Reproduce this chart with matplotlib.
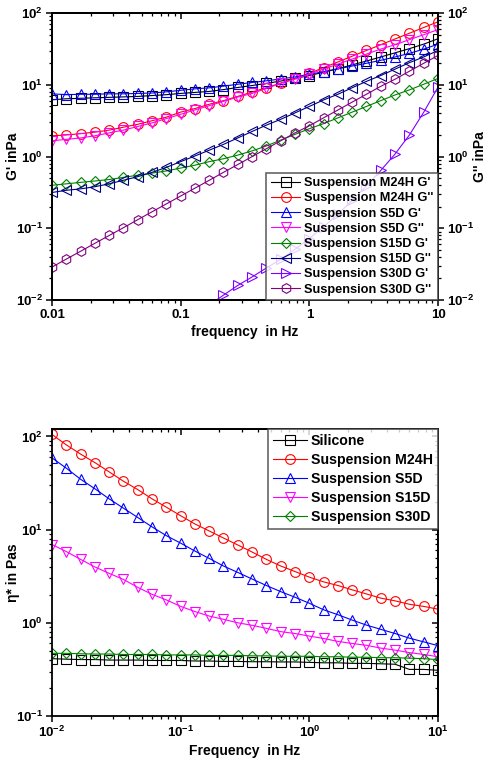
import numpy as np
import matplotlib
matplotlib.use('Agg')
from matplotlib import pyplot as plt
from matplotlib.ticker import FuncFormatter, FormatStrFormatter, NullFormatter

plt.rcParams['font.family'] = ['Liberation Sans', 'DejaVu Sans']
plt.rcParams['font.weight'] = 'bold'
plt.rcParams['axes.labelweight'] = 'bold'
plt.rcParams['mathtext.fontset'] = 'custom'
plt.rcParams['mathtext.rm'] = 'Liberation Sans:bold'
plt.rcParams['mathtext.bf'] = 'Liberation Sans:bold'

freq = [0.01, 0.0129, 0.0167, 0.0215, 0.0278, 0.0359, 0.0464, 0.0599, 0.0774,
        0.1, 0.129, 0.167, 0.215, 0.278, 0.359, 0.464, 0.599, 0.774,
        1.0, 1.29, 1.67, 2.15, 2.78, 3.59, 4.64, 5.99, 7.74, 10.0]

# storage / loss moduli (Pa)
m24h_g1 = [6.2, 6.4, 6.5, 6.6, 6.7, 6.8, 6.9, 7.1, 7.3, 7.6, 7.85, 8.1, 8.6, 9.2,
           9.8, 10.5, 11.3, 12.3, 13.5, 15.0, 16.8, 19.0, 21.5, 24.5, 28.0, 32.0, 37.0, 44.0]
m24h_g2 = [1.95, 2.0, 2.09, 2.19, 2.34, 2.57, 2.82, 3.16, 3.55, 4.17, 4.68, 5.37, 6.03, 6.92,
           7.94, 9.12, 10.6, 12.3, 14.5, 17.4, 20.9, 25.1, 30.2, 36.3, 43.7, 52.5, 63.1, 75.9]
s5d_g1 = [7.5, 7.3, 7.4, 7.4, 7.5, 7.5, 7.6, 7.7, 8.0, 8.4, 8.8, 9.1, 9.6, 10.2,
          10.8, 11.4, 12.1, 12.9, 14.0, 15.3, 16.8, 18.3, 20.0, 22.0, 24.5, 27.5, 31.5, 37.0]
s5d_g2 = [1.66, 1.74, 1.82, 1.95, 2.14, 2.34, 2.63, 2.95, 3.39, 3.89, 4.47, 5.13, 5.89, 6.76,
          7.59, 8.91, 10.5, 12.0, 14.1, 16.6, 19.5, 22.9, 26.9, 31.6, 36.3, 42.7, 50.1, 58.9]
s15d_g1 = [0.398, 0.417, 0.437, 0.457, 0.479, 0.513, 0.55, 0.589, 0.631, 0.692, 0.759, 0.851, 0.933, 1.05,
           1.20, 1.41, 1.70, 2.04, 2.45, 2.88, 3.47, 4.17, 5.01, 6.03, 7.24, 8.51, 10.2, 12.3]
s15d_g2 = [0.316, 0.339, 0.355, 0.380, 0.417, 0.468, 0.525, 0.603, 0.708, 0.851, 1.02, 1.23, 1.48, 1.82,
           2.24, 2.75, 3.31, 4.07, 5.01, 6.17, 7.41, 9.12, 11.2, 13.5, 16.6, 20.4, 24.5, 30.2]
nan = np.nan
s30d_g1 = [nan, nan, nan, nan, nan, nan, nan, nan, nan, nan, nan, 0.0085, 0.0117, 0.016,
           0.021, 0.028, 0.037, 0.051, 0.072, 0.105, 0.158, 0.245, 0.39, 0.64, 1.09, 2.0, 4.15, 9.3]
s30d_g2 = [0.0288, 0.0372, 0.0479, 0.0617, 0.0794, 0.102, 0.132, 0.170, 0.219, 0.282, 0.363, 0.468, 0.603, 0.776,
           1.0, 1.29, 1.66, 2.14, 2.69, 3.47, 4.47, 5.75, 7.41, 9.55, 12.0, 15.5, 20.0, 25.7]

# complex viscosity (Pa s)
eta_silicone = [0.412, 0.407, 0.403, 0.403, 0.398, 0.398, 0.398, 0.394, 0.394, 0.394, 0.389, 0.389, 0.385, 0.385,
                0.382, 0.382, 0.380, 0.380, 0.376, 0.372, 0.372, 0.367, 0.367, 0.363, 0.359, 0.316, 0.316, 0.309]
eta_m24h = [105, 81.3, 64.6, 52.5, 41.7, 33.1, 26.9, 21.4, 17.4, 14.1, 11.5, 9.66, 8.13, 6.84,
            5.75, 4.79, 4.07, 3.55, 3.09, 2.75, 2.51, 2.26, 2.04, 1.84, 1.72, 1.58, 1.50, 1.40]
eta_s5d = [58.9, 45.7, 34.7, 27.5, 21.4, 17.0, 13.5, 10.7, 8.61, 7.16, 5.89, 4.90, 4.07, 3.47,
           2.95, 2.51, 2.16, 1.88, 1.62, 1.38, 1.22, 1.07, 0.944, 0.851, 0.767, 0.684, 0.624, 0.569]
eta_s15d = [6.92, 5.82, 4.79, 3.98, 3.39, 2.92, 2.40, 2.02, 1.76, 1.50, 1.32, 1.18, 1.09, 1.0,
            0.94, 0.871, 0.804, 0.767, 0.72, 0.679, 0.631, 0.60, 0.573, 0.535, 0.509, 0.479, 0.457, 0.432]
eta_s30d = [0.47, 0.47, 0.465, 0.462, 0.462, 0.457, 0.457, 0.457, 0.452, 0.452, 0.452, 0.447, 0.447, 0.447,
            0.442, 0.442, 0.437, 0.437, 0.437, 0.432, 0.432, 0.427, 0.427, 0.422, 0.422, 0.417, 0.412, 0.403]

top_series = [
    ("Suspension M24H G'", m24h_g1, 'black', 's'),
    ("Suspension M24H G''", m24h_g2, '#ff0000', 'o'),
    ("Suspension S5D G'", s5d_g1, '#0000ff', '^'),
    ("Suspension S5D G''", s5d_g2, '#ff00ff', 'v'),
    ("Suspension S15D G'", s15d_g1, '#008000', 'D'),
    ("Suspension S15D G''", s15d_g2, '#000080', '<'),
    ("Suspension S30D G'", s30d_g1, '#8000ff', '>'),
    ("Suspension S30D G''", s30d_g2, '#800080', 'h'),
]
bottom_series = [
    ('Silicone', eta_silicone, 'black', 's'),
    ('Suspension M24H', eta_m24h, '#ff0000', 'o'),
    ('Suspension S5D', eta_s5d, '#0000ff', '^'),
    ('Suspension S15D', eta_s15d, '#ff00ff', 'v'),
    ('Suspension S30D', eta_s30d, '#008000', 'D'),
]

pow10 = FuncFormatter(lambda v, p: r'$\mathbf{10^{%d}}$' % round(np.log10(v)))


def draw(ax, series):
    for label, vals, color, mk in series:
        ms = 5.5 if mk == 'D' else 7
        ax.plot(freq, vals, color=color, marker=mk, markersize=ms, markerfacecolor='none',
                markeredgecolor=color, markeredgewidth=0.8, linewidth=0.8, label=label)


def ticks(ax, direction):
    ax.tick_params(which='major', length=4, width=1.1, labelsize=9.5, direction=direction, pad=2.5)
    ax.tick_params(which='minor', length=2.2, width=0.9, direction=direction)


def style(ax):
    ax.set_xscale('log')
    ax.set_yscale('log')
    ax.set_xlim(0.01, 10)
    for s in ax.spines.values():
        s.set_linewidth(1.3)
    ticks(ax, 'out')


def inner_top(ax):
    top = ax.secondary_xaxis('top')
    ticks(top, 'in')
    top.xaxis.set_major_formatter(NullFormatter())
    top.xaxis.set_minor_formatter(NullFormatter())
    top.spines['top'].set_linewidth(1.3)
    return top


def styled_legend(ax, loc, size, spacing, hl):
    leg = ax.legend(loc=loc, fontsize=size, frameon=True, fancybox=False,
                    borderaxespad=0, handlelength=hl, handletextpad=0.3,
                    labelspacing=spacing, borderpad=0.35)
    leg.get_frame().set_edgecolor('#404040')
    leg.get_frame().set_linewidth(1.2)
    leg.set_zorder(5)
    return leg


fig = plt.figure(figsize=(4.88, 7.65), dpi=100)

# G' and G'' vs frequency
ax1 = fig.add_axes([0.1066, 0.6078, 0.791, 0.375])
draw(ax1, top_series)
style(ax1)
ax1.set_ylim(0.01, 100)
ax1.xaxis.set_major_formatter(FormatStrFormatter('%g'))
ax1.yaxis.set_major_formatter(pow10)
inner_top(ax1)
ax1.set_xlabel('frequency  in Hz', fontsize=10, labelpad=3)
ax1.set_ylabel("G' inPa", fontsize=10)
ax1.yaxis.set_label_coords(-0.082, 0.5)

ax1r = ax1.twinx()
ax1r.set_yscale('log')
ax1r.set_ylim(0.01, 100)
ax1r.yaxis.set_major_formatter(pow10)
ticks(ax1r, 'out')
for s in ax1r.spines.values():
    s.set_linewidth(1.3)
ax1r.set_ylabel("G'' inPa", fontsize=10)
ax1r.yaxis.set_label_coords(1.09, 0.5)
ax1r.set_zorder(ax1.get_zorder() - 1)
ax1.patch.set_visible(False)

styled_legend(ax1, 'lower right', 9.2, 0.25, 2.3)

# complex viscosity vs frequency
ax2 = fig.add_axes([0.1066, 0.0641, 0.791, 0.375])
draw(ax2, bottom_series)
style(ax2)
ax2.set_ylim(0.1, 120)
ax2.xaxis.set_major_formatter(pow10)
ax2.yaxis.set_major_formatter(pow10)
inner_top(ax2)
right = ax2.secondary_yaxis('right')
ticks(right, 'in')
right.yaxis.set_major_formatter(NullFormatter())
right.yaxis.set_minor_formatter(NullFormatter())
right.spines['right'].set_linewidth(1.3)
ax2.set_xlabel('Frequency  in Hz', fontsize=10, labelpad=3)
ax2.set_ylabel('η* in Pas', fontsize=10)
ax2.yaxis.set_label_coords(-0.082, 0.5)

styled_legend(ax2, 'upper right', 10.2, 0.36, 2.4)

fig.savefig('out.png', dpi=100)
